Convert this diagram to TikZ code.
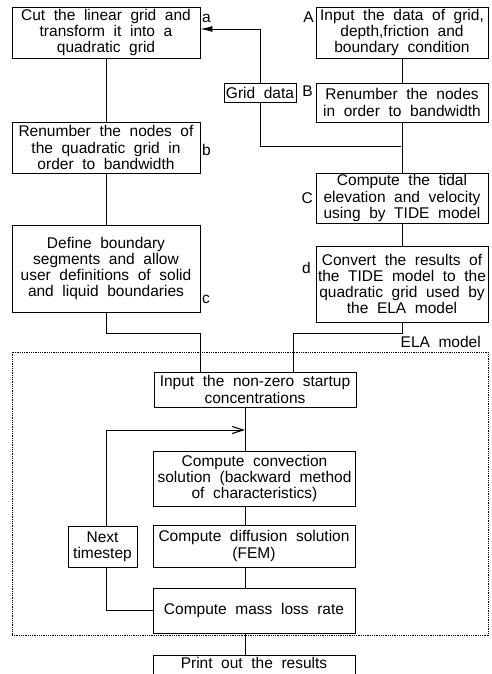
\documentclass[tikz,border=0pt]{standalone}
\usepackage{fontspec}
\setmainfont[WordSpace=2]{Liberation Sans}
\usetikzlibrary{arrows.meta}
\begin{document}
\begin{tikzpicture}[x=1pt,y=-1pt,
  box/.style={draw, line width=0.9pt, align=center, inner sep=0pt, fill=white,
    font=\fontsize{15.5}{16.2}\selectfont},
  lab/.style={inner sep=0pt, font=\fontsize{15.5}{16.2}\selectfont},
  conn/.style={line width=0.9pt},
  dotbox/.style={draw, line width=0.9pt, dash pattern=on 1pt off 0.8pt, inner sep=0pt},
  tipA/.style={-{Latex[length=12pt,width=6pt]}},
  tipB/.style={-{Straight Barb[length=11pt,width=7pt,line width=1.1pt]}}]
\useasboundingbox (0,0) rectangle (492,674);
\clip (0,0) rectangle (492,674);

% ELA model frame
\node[dotbox, minimum width=476pt, minimum height=283pt] (ela) at (250,493.5) {};
\node[lab, anchor=base east] (elalab) at (481,347) {ELA model};

% top right column
\node[box, minimum width=172pt, minimum height=51pt] (A) at (402,32.5)
  {Input the data of grid,\\depth,friction and\\boundary condition};
\node[box, minimum width=172pt, minimum height=39pt] (B) at (402,102.5)
  {Renumber the nodes\\in order to bandwidth};
\node[box, minimum width=172pt, minimum height=50pt] (C) at (402,198)
  {Compute the tidal\\elevation and velocity\\using by TIDE model};
\node[box, minimum width=172pt, minimum height=76pt] (D) at (402,284)
  {Convert the results of\\the TIDE model to the\\quadratic grid used by\\the ELA model};

% left column
\node[box, minimum width=188pt, minimum height=51pt] (a) at (106,32.5)
  {Cut the linear grid and\\transform it into a\\quadratic grid};
\node[box, minimum width=188pt, minimum height=51pt] (b) at (106,147.5)
  {Renumber the nodes of\\the quadratic grid in\\order to bandwidth};
\node[box, minimum width=188pt, minimum height=87pt] (c) at (106,268.5)
  {Define boundary\\segments and allow\\user definitions of solid\\and liquid boundaries};

% grid data
\node[box, minimum width=72pt, minimum height=19pt] (grid) at (260,93) {Grid data};

% side labels
\node[lab, anchor=base west] (la) at (202,23) {a};
\node[lab, anchor=base west] (lb) at (202,155) {b};
\node[lab, anchor=base west] (lc) at (202,303) {c};
\node[lab, anchor=base east] (lA) at (314,23) {A};
\node[lab, anchor=base east] (lB) at (313,97) {B};
\node[lab, anchor=base east] (lC) at (313,203) {C};
\node[lab, anchor=base east] (ld) at (311,273) {d};

% ELA model boxes
\node[box, minimum width=202pt, minimum height=35pt] (start) at (255,389.5)
  {Input the non-zero startup\\concentrations};
\node[box, minimum width=202pt, minimum height=55pt] (conv) at (254.5,478.5)
  {Compute convection\\solution (backward method\\of characteristics)};
\node[box, minimum width=202pt, minimum height=42pt] (diff) at (254,546)
  {Compute diffusion solution\\(FEM)};
\node[box, minimum width=202pt, minimum height=45pt] (mass) at (254,610.5)
  {Compute mass loss rate};
\node[box, minimum width=69pt, minimum height=41pt] (next) at (102.5,546.5)
  {Next\\timestep};
\node[box, anchor=north, minimum width=202pt, text height=11pt, text depth=24pt,
  inner ysep=2.5pt] (print) at (254,655) {Print out the results};

% helper coordinates
\coordinate (j1) at (401,146);
\coordinate (ta) at (260,29);
\coordinate (l1) at (200,333);
\coordinate (r1) at (293,333);
\coordinate (mx) at (245,0);
\coordinate (lx) at (106,0);
\coordinate (tip) at (245,430);

% connectors
\draw[conn] (A) -- (B);
\draw[conn] (B) -- (C);
\draw[conn] (C) -- (D);
\draw[conn] (a) -- (b);
\draw[conn] (b) -- (c);
\draw[conn] (j1) -| (grid.south);
\draw[conn, tipA] (grid.north) -- (ta) -- (ta -| a.east);
\draw[conn] (c.south) |- (l1) -- (l1 |- start.north);
\draw[conn] (D.south) |- (r1) -- (r1 |- start.north);
\draw[conn] (start.south -| mx) -- (conv.north -| mx);
\draw[conn] (conv.south -| mx) -- (diff.north -| mx);
\draw[conn] (diff.south -| mx) -- (mass.north -| mx);
\draw[conn] (mass.south -| mx) -- (print.north -| mx);
\draw[conn, tipB] (next.north -| lx) |- (tip);
\draw[conn] (next.south -| lx) |- (mass.west);
\end{tikzpicture}
\end{document}
